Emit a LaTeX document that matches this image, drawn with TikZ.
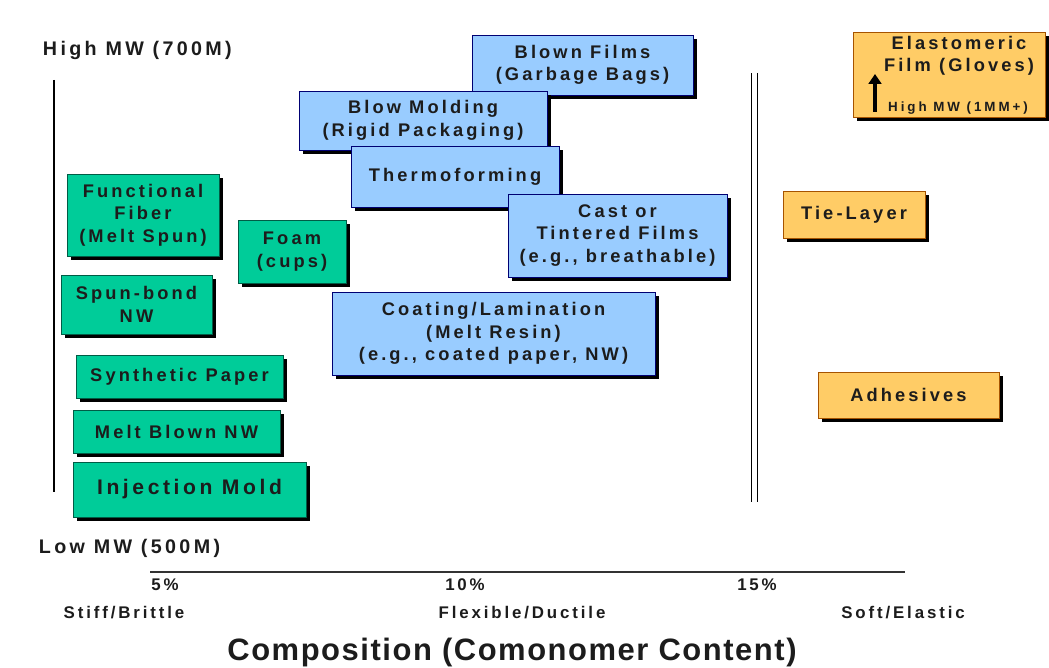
\documentclass[tikz,border=0pt]{standalone}
\usepackage{fontspec}
\setmainfont{Liberation Sans}
\newfontfamily\boxfont{Liberation Sans}[LetterSpace=17]
\newfontfamily\widefont{Liberation Sans}[LetterSpace=22]
\newfontfamily\titlefont{Liberation Sans}[LetterSpace=5]
\usetikzlibrary{shadows,arrows.meta}
\definecolor{resingreen}{RGB}{0,204,153}
\definecolor{resinblue}{RGB}{153,204,255}
\definecolor{resinyellow}{RGB}{255,204,102}
\definecolor{inkgray}{RGB}{28,28,28}
\begin{document}
\begin{tikzpicture}[x=0.025cm, y=-0.025cm,
    every node/.style={font=\boxfont\bfseries\fontsize{13}{16}\selectfont, text=inkgray, align=center},
    appbox/.style={draw, thin, inner sep=0pt,
        drop shadow={shadow xshift=0.1cm, shadow yshift=-0.1cm, fill=black, opacity=1}},
    greenbox/.style={appbox, fill=resingreen, draw=resingreen!45!black},
    bluebox/.style={appbox, fill=resinblue, draw=blue!45!black},
    yellowbox/.style={appbox, fill=resinyellow, draw=orange!65!black},
    mwlabel/.style={anchor=west, font=\boxfont\bfseries\fontsize{14}{16}\selectfont},
    axislabel/.style={font=\boxfont\bfseries\fontsize{12}{14}\selectfont}]
    \useasboundingbox (0,0) rectangle (1049,668);

    % molecular weight scale
    \node[mwlabel] (highmw) at (38,50) {High MW (700M)};
    \node[mwlabel] (lowmw) at (34,548) {Low MW (500M)};
    \coordinate (mwtop) at (54,80);
    \coordinate (mwbot) at (54,492);
    \draw[line width=1.1pt] (mwtop) -- (mwbot);

    % green applications
    \node[greenbox, minimum width=3.8cm, minimum height=2.05cm] (fiber) at (143,215) {Functional\\Fiber\\(Melt Spun)};
    \node[greenbox, minimum width=2.7cm, minimum height=1.575cm] (foam) at (292,251.5) {Foam\\(cups)};
    \node[greenbox, minimum width=3.775cm, minimum height=1.475cm] (spun) at (136.5,304.5) {Spun-bond\\NW};
    \node[greenbox, minimum width=5.175cm, minimum height=1.075cm] (paper) at (179.5,376.5) {Synthetic Paper};
    \node[greenbox, minimum width=5.175cm, minimum height=1.075cm] (meltblown) at (176.5,431.5) {Melt Blown NW};
    \node[greenbox, minimum width=5.825cm, minimum height=1.375cm, font=\boxfont\bfseries\fontsize{15}{18}\selectfont] (inject) at (189.5,489.5) {Injection Mold};

    % blue applications
    \node[bluebox, minimum width=5.525cm, minimum height=1.5cm] (blown) at (582.5,65) {Blown Films\\(Garbage Bags)};
    \node[bluebox, minimum width=6.2cm, minimum height=1.475cm] (blowmold) at (423,120.5) {Blow Molding\\(Rigid Packaging)};
    \node[bluebox, minimum width=5.2cm, minimum height=1.525cm] (thermo) at (455,176.5) {Thermoforming};
    \node[bluebox, minimum width=5.475cm, minimum height=2.075cm] (cast) at (617.5,235.5) {Cast or\\Tintered Films\\(e.g., breathable)};
    \node[bluebox, minimum width=8.075cm, minimum height=2.075cm] (coating) at (493.5,333.5) {Coating/Lamination\\(Melt Resin)\\(e.g., coated paper, NW)};

    % divider
    \coordinate (divtop) at (754.5,73);
    \coordinate (divbot) at (754.5,502);
    \draw[line width=0.7pt, double distance=3pt] (divtop) -- (divbot);

    % yellow applications
    \node[yellowbox, minimum width=4.8cm, minimum height=2.125cm] (elast) at (949,74.5) {};
    \node (elastlbl) at (959,56) {Elastomeric\\Film (Gloves)};
    \node[font=\widefont\bfseries\fontsize{9.5}{11}\selectfont] (highmm) at (958,108) {High MW (1MM+)};
    \coordinate (arrowbot) at (875,112);
    \coordinate (arrowtop) at (875,74);
    \draw[line width=2.4pt, -{Triangle[length=7pt,width=9pt]}] (arrowbot) -- (arrowtop);
    \node[yellowbox, minimum width=3.55cm, minimum height=1.175cm] (tie) at (854,214.5) {Tie-Layer};
    \node[yellowbox, minimum width=4.525cm, minimum height=1.15cm] (adhes) at (908.5,395) {Adhesives};

    % composition axis
    \coordinate (axisleft) at (150,572);
    \coordinate (axisright) at (905,572);
    \draw[line width=1.5pt, black!80] (axisleft) -- (axisright);
    \node[axislabel] (five) at (165,585) {5\%};
    \node[axislabel] (ten) at (465,585) {10\%};
    \node[axislabel] (fifteen) at (757,585) {15\%};
    \node[axislabel] (stiff) at (124,613) {Stiff/Brittle};
    \node[axislabel] (flex) at (522,613) {Flexible/Ductile};
    \node[axislabel] (soft) at (903,613) {Soft/Elastic};
    \node[font=\titlefont\bfseries\fontsize{22}{26}\selectfont] (comp) at (512,652) {Composition (Comonomer Content)};
\end{tikzpicture}
\end{document}
